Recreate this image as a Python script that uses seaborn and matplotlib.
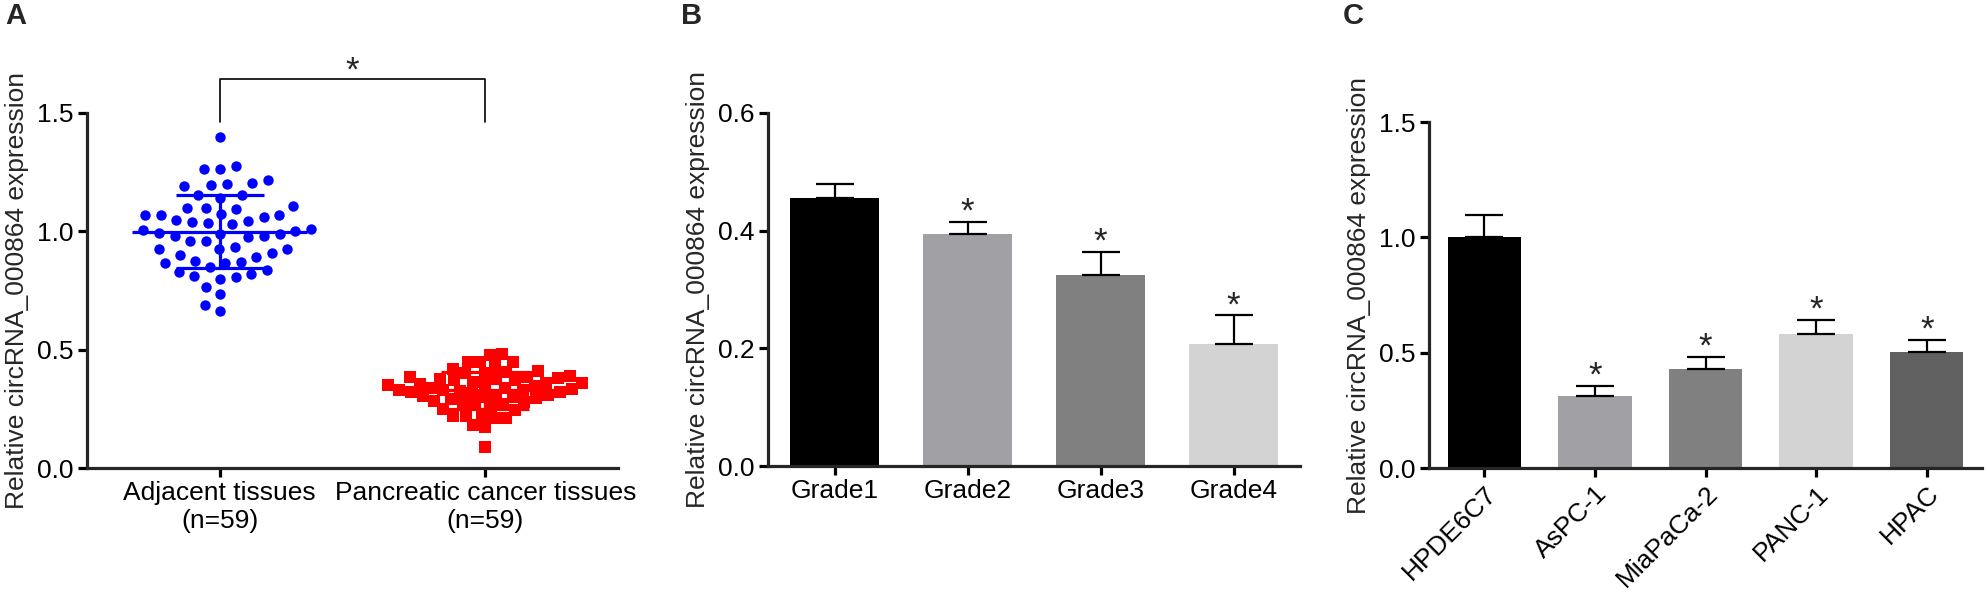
import numpy as np
import pandas as pd
import matplotlib
matplotlib.use("Agg")
import matplotlib.pyplot as plt
import seaborn as sns

sns.set_style("ticks")
plt.rcParams['font.family'] = ['Liberation Sans', 'DejaVu Sans']
plt.rcParams['font.size'] = 19

W, H = 1987, 593

# panel A - individual samples
groups = ['Adjacent tissues\n(n=59)', 'Pancreatic cancer tissues\n(n=59)']
adjacent = [1.40,
            1.275, 1.265, 1.265,
            1.205, 1.195, 1.19, 1.20, 1.215,
            1.155, 1.14, 1.155,
            1.105, 1.10, 1.075, 1.10, 1.095,
            1.07, 1.06, 1.045, 1.035, 1.03, 1.04, 1.05, 1.07, 1.07,
            1.01, 1.0, 0.995, 0.98, 0.975, 1.005, 0.98, 0.99, 0.99,
            0.96, 0.96,
            0.935, 0.925, 0.91, 0.89, 0.90, 0.925, 0.925,
            0.865, 0.875, 0.865, 0.87,
            0.85, 0.83, 0.805, 0.81, 0.82, 0.835, 0.80,
            0.765, 0.735, 0.665, 0.69]
cancer = [0.483, 0.479, 0.45, 0.446, 0.446, 0.43,
          0.42, 0.41, 0.405, 0.40, 0.40,
          0.39, 0.385, 0.385, 0.38, 0.378, 0.375, 0.37, 0.37, 0.365, 0.36,
          0.36, 0.355, 0.35, 0.35, 0.345, 0.34, 0.34, 0.335, 0.33, 0.33,
          0.33, 0.325, 0.32, 0.32, 0.315, 0.31, 0.31, 0.305, 0.30, 0.30,
          0.295, 0.29, 0.285, 0.28, 0.275, 0.27, 0.265, 0.26, 0.25, 0.245,
          0.22, 0.21, 0.21, 0.22, 0.225, 0.18, 0.175, 0.09]

# panel B - tumour grade
grades = ['Grade1', 'Grade2', 'Grade3', 'Grade4']
grade_mean = [0.456, 0.395, 0.325, 0.207]
grade_err = [0.023, 0.020, 0.039, 0.049]
grade_colors = ['#000000', '#a0a0a5', '#808080', '#d3d3d3']
grade_star = [False, True, True, True]

# panel C - cell lines
cells = ['HPDE6C7', 'AsPC-1', 'MiaPaCa-2', 'PANC-1', 'HPAC']
cell_mean = [1.003, 0.313, 0.430, 0.582, 0.502]
cell_err = [0.093, 0.043, 0.051, 0.061, 0.055]
cell_colors = ['#000000', '#a0a0a5', '#808080', '#d3d3d3', '#606060']
cell_star = [False, True, True, True, True]

ylabel = 'Relative circRNA_000864 expression'

fig = plt.figure(figsize=(W / 100, H / 100), dpi=100)


def box(left, right, top, bottom):
    return [left / W, 1 - bottom / H, (right - left) / W, (bottom - top) / H]


def style(ax):
    sns.despine(ax=ax)
    for s in ['left', 'bottom']:
        ax.spines[s].set_linewidth(2.3)
    ax.tick_params(width=2.3, length=6.7, labelsize=19, pad=3, colors='black')
    ax.set_xlabel('')
    ax.set_ylabel(ylabel, fontsize=19, labelpad=6)


def star(ax, x, y):
    ax.annotate('*', (x, y), xytext=(0, 0), textcoords='offset points',
                ha='center', va='baseline', fontsize=25, annotation_clip=False)


def bars(ax, names, means, errs, colors, stars):
    sns.barplot(x=names, y=means, hue=names, palette=colors, width=0.665,
                saturation=1, legend=False, linewidth=0, ax=ax)
    ax.errorbar(range(len(names)), means, yerr=[np.zeros(len(names)), errs],
                fmt='none', ecolor='black', elinewidth=1.6, capsize=14,
                capthick=1.6, zorder=3)
    for i, s in enumerate(stars):
        if s:
            star(ax, i, means[i] + errs[i])
    ax.set_xlim(-0.5, len(names) - 0.5)


# ---- A ----
axA = fig.add_axes(box(87, 618, 113, 468))
df_a = pd.DataFrame({'group': [groups[0]] * len(adjacent) + [groups[1]] * len(cancer),
                     'value': adjacent + cancer})
# swarm laid out with a bigger spacing than the dots that are finally drawn
sns.swarmplot(data=df_a[df_a.group == groups[0]], x='group', y='value', order=groups,
              color='#0000ff', marker='o', size=11, linewidth=0, ax=axA)
sns.swarmplot(data=df_a[df_a.group == groups[1]], x='group', y='value', order=groups,
              color='#ff0000', marker='s', size=8.5, linewidth=0, ax=axA)
for i, (vals, c) in enumerate(zip([adjacent, cancer], ['#0000ff', '#ff0000'])):
    m, sd = np.mean(vals), np.std(vals, ddof=1)
    axA.hlines(m, i - 0.33, i + 0.33, color=c, lw=2.3, zorder=5)
    axA.hlines([m - sd, m + sd], i - 0.165, i + 0.165, color=c, lw=2.3, zorder=5)
    axA.vlines(i, m - sd, m + sd, color=c, lw=2.3, zorder=5)
axA.set_xlim(-0.5, 1.5)
axA.set_ylim(0, 1.5)
axA.set_yticks([0, 0.5, 1.0, 1.5])
axA.set_yticklabels(['0.0', '0.5', '1.0', '1.5'])
axA.plot([0, 0, 1, 1], [1.462, 1.644, 1.644, 1.462], color='black', lw=1.2, clip_on=False)
star(axA, 0.5, 1.636)
style(axA)

# ---- B ----
axB = fig.add_axes(box(768, 1300, 113, 466))
bars(axB, grades, grade_mean, grade_err, grade_colors, grade_star)
axB.set_ylim(0, 0.6)
axB.set_yticks([0, 0.2, 0.4, 0.6])
axB.set_yticklabels(['0.0', '0.2', '0.4', '0.6'])
style(axB)

# ---- C ----
axC = fig.add_axes(box(1429, 1982, 122, 468))
bars(axC, cells, cell_mean, cell_err, cell_colors, cell_star)
axC.set_ylim(0, 1.5)
axC.set_yticks([0, 0.5, 1.0, 1.5])
axC.set_yticklabels(['0.0', '0.5', '1.0', '1.5'])
style(axC)
plt.setp(axC.get_xticklabels(), rotation=45, ha='right', rotation_mode='anchor')

fig.text(5 / W, 1 - 2 / H, 'A', fontsize=21, fontweight='bold', va='top')
fig.text(681 / W, 1 - 2 / H, 'B', fontsize=21, fontweight='bold', va='top')
fig.text(1343 / W, 1 - 2 / H, 'C', fontsize=21, fontweight='bold', va='top')

# fix the swarm positions, then shrink the markers to their real size
fig.canvas.draw()
for coll, s in zip(axA.collections[:2], [7.5, 8.0]):
    coll.__dict__.pop('draw', None)
    coll.set_sizes([s ** 2])

fig.savefig('out.png', dpi=100)
